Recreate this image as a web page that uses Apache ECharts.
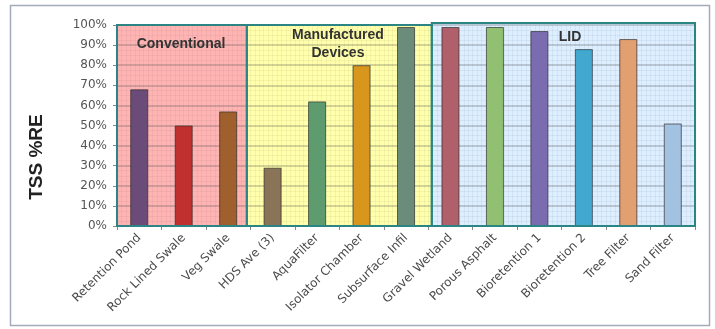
<!DOCTYPE html>
<html>
<head>
<meta charset="utf-8">
<script src="https://cdn.jsdelivr.net/npm/echarts@6/dist/echarts.min.js"></script>
<style>
html,body{margin:0;padding:0;background:#fff;}
#chart{width:715px;height:329px;}
</style>
</head>
<body>
<div id="chart"></div>
<script>
const categories = ['Retention Pond','Rock Lined Swale','Veg Swale','HDS Ave (3)','AquaFilter','Isolator Chamber','Subsurface Infil','Gravel Wetland','Porous Asphalt','Bioretention 1','Bioretention 2','Tree Filter','Sand Filter'];
const values = [68, 50, 57, 29, 62, 80, 99, 99, 99, 97, 88, 93, 51];
const barColors = ['#6b4b78','#c0302e','#a0602e','#8a7458','#5e9c70','#d9961c','#6b8c7a','#b0606a','#92c073','#7b6cb2','#42a8d0','#e2a070','#a3c2e2'];

const regionNames = ['Conventional','Manufactured\nDevices','LID'];
const regionStart = [0, 2.92, 7.08];
const regionEnd = [2.92, 7.08, 13];
const regionTop = [100, 100, 101];
const regionFill = ['#ffb4b4','#ffffac','#dceeff'];
const regionLabelX = [1.44, 4.97, 10.19];
const regionLabelY = [90.5, 90.5, 94];

const yMin = 0, yMax = 100, yInterval = 10;

const chart = echarts.init(document.getElementById('chart'));

const regionData = regionNames.map((n, i) => [regionStart[i], regionEnd[i], regionTop[i], regionLabelX[i], regionLabelY[i], i]);

function regionRect(api) {
  const p0 = api.coord([api.value(0), api.value(2)]);
  const p1 = api.coord([api.value(1), 0]);
  return {x: p0[0], y: p0[1], width: p1[0] - p0[0], height: p1[1] - p0[1]};
}

const option = {
  animation: false,
  grid: {left: 117, right: 20, top: 25, bottom: 103, containLabel: false},
  xAxis: [
    {
      type: 'category',
      data: categories,
      boundaryGap: true,
      axisLine: {show: true, lineStyle: {color: '#888', width: 1}},
      axisTick: {show: true, length: 4, lineStyle: {color: '#888'}},
      axisLabel: {rotate: 45, fontSize: 12, color: '#4a4a4a', fontFamily: 'DejaVu Sans', margin: 10, interval: 0}
    },
    {
      type: 'value',
      min: 0, max: 13, interval: 0.1,
      position: 'top',
      axisLine: {show: false}, axisTick: {show: false}, axisLabel: {show: false},
      splitLine: {show: true, lineStyle: {color: 'rgba(0,0,0,0.045)', width: 1}}
    }
  ],
  yAxis: {
    type: 'value',
    min: yMin, max: yMax, interval: yInterval,
    axisLine: {show: false},
    axisTick: {show: true, length: 4, lineStyle: {color: '#888'}},
    axisLabel: {formatter: '{value}%', fontSize: 12, color: '#555', fontFamily: 'DejaVu Sans', margin: 10},
    splitLine: {show: true, lineStyle: {color: 'rgba(80,80,80,0.33)', width: 1.5}},
    minorTick: {show: false, splitNumber: 4},
    minorSplitLine: {show: true, lineStyle: {color: 'rgba(0,0,0,0.045)', width: 1}}
  },
  graphic: [
    {type: 'rect', shape: {x: 10.5, y: 5.5, width: 699, height: 320}, style: {fill: 'none', stroke: '#a4acbc', lineWidth: 1.5}, z: 100},
    {type: 'text', x: 37, y: 157, rotation: Math.PI / 2, style: {text: 'TSS %RE', font: 'bold 19px "Liberation Sans", Arial', fill: '#222', textAlign: 'center', textVerticalAlign: 'middle'}}
  ],
  series: [
    {
      type: 'custom',
      xAxisIndex: 1,
      z: -1,
      silent: true,
      data: regionData,
      renderItem: function (params, api) {
        return {type: 'rect', shape: regionRect(api), style: {fill: regionFill[api.value(5)]}};
      }
    },
    {
      type: 'bar',
      xAxisIndex: 0,
      data: values.map((v, i) => ({value: v, itemStyle: {color: barColors[i]}})),
      barWidth: 18,
      itemStyle: {borderColor: 'rgba(40,40,40,0.65)', borderWidth: 1},
      z: 2
    },
    {
      type: 'custom',
      xAxisIndex: 1,
      z: 3,
      silent: true,
      data: regionData,
      renderItem: function (params, api) {
        const r = regionRect(api);
        const lp = api.coord([api.value(3), api.value(4)]);
        return {
          type: 'group',
          children: [
            {type: 'rect', shape: r, style: {fill: 'none', stroke: '#2b8584', lineWidth: 2}},
            {type: 'text', x: lp[0], y: lp[1], style: {text: regionNames[api.value(5)], font: 'bold 14px "Liberation Sans", Arial', fill: '#333', textAlign: 'center', textVerticalAlign: 'middle', lineHeight: 18}}
          ]
        };
      }
    }
  ]
};
chart.setOption(option);
</script>
</body>
</html>
